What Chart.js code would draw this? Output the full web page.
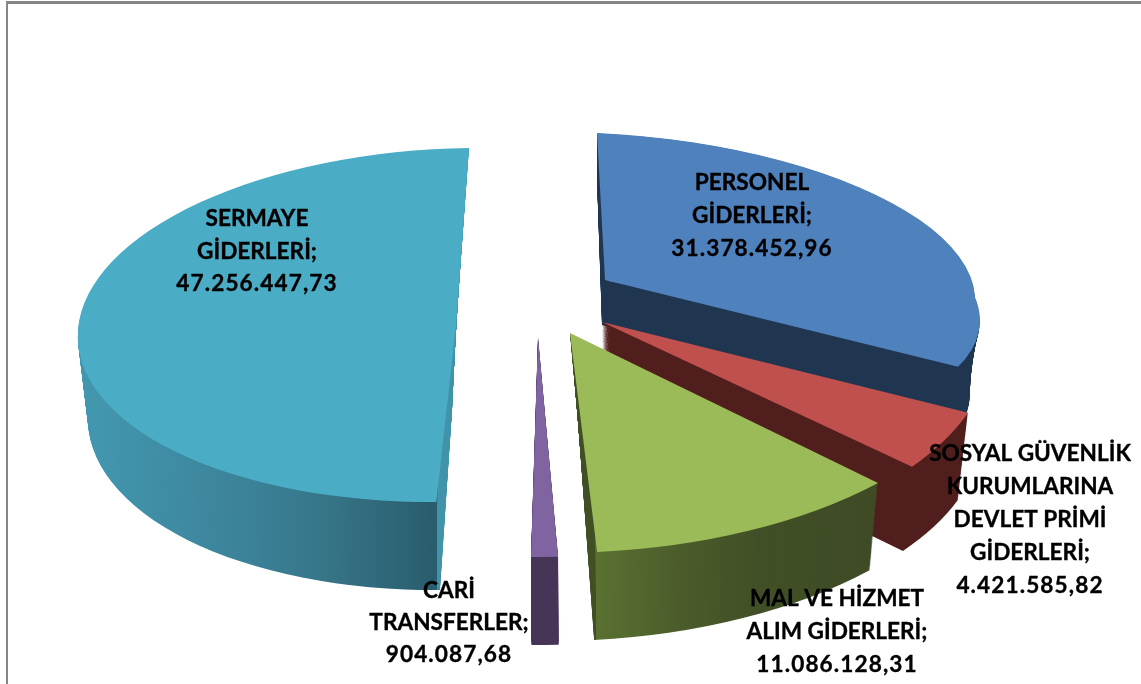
<!DOCTYPE html>
<html>
<head>
<meta charset="utf-8">
<title>Giderler</title>
<script src="https://cdn.jsdelivr.net/npm/chart.js@4"></script>
<style>
    html, body { margin: 0; padding: 0; background: #fff; overflow: hidden; }
    #wrap { position: absolute; left: 0; top: 0; width: 1141px; height: 684px; }
    #frame { position: absolute; left: 6px; top: 1px; right: 0; bottom: 0; border-top: 3px solid #868686; border-left: 2px solid #868686; }
    #myPie { position: absolute; left: 0; top: 0; }
</style>
</head>
<body>
<div id="wrap">
    <div id="frame"></div>
    <canvas id="myPie" width="1141" height="684"></canvas>
</div>
<script>
const categories = ['PERSONEL GİDERLERİ', 'SOSYAL GÜVENLİK KURUMLARINA DEVLET PRİMİ GİDERLERİ', 'MAL VE HİZMET ALIM GİDERLERİ', 'CARİ TRANSFERLER', 'SERMAYE GİDERLERİ'];
const seriesValues = [31378452.96, 4421585.82, 11086128.31, 904087.68, 47256447.73];
const labelLines = [
    ['PERSONEL', 'GİDERLERİ;'],
    ['SOSYAL GÜVENLİK', 'KURUMLARINA', 'DEVLET PRİMİ', 'GİDERLERİ;'],
    ['MAL VE HİZMET', 'ALIM GİDERLERİ;'],
    ['CARİ', 'TRANSFERLER;'],
    ['SERMAYE', 'GİDERLERİ;']
];

// renk ayarlari
const faceColors = ['#4f81bd', '#c0504d', '#9bbb59', '#8064a2', '#4bacc6'];
// wall gradient stops: [screen x, colour]
const wallStops = [
    [[0, '#1f3550'], [1141, '#1f3550']],
    [[0, '#501f1d'], [1141, '#501f1d']],
    [[595.5, '#414f25'], [596, '#5a7131'], [680, '#4b5c2b'], [760, '#414f26'], [875, '#3e4b25']],
    [[0, '#463557'], [1141, '#463557']],
    [[85, '#4297af'], [250, '#3b8198'], [330, '#367486'], [436.5, '#295c6d'], [437, '#4193aa'], [470, '#4193aa']]
];

// per slice projection (a, b, c, d, e, f), one for the top face and one for the floor of the wall
// front = lower half shear, only blue needs it
const views = [
    { top: [370, 17, 8, 147, 605, 280], topFront: [60, 149], bottom: [342, 15, 5, 147, 602, 325], bottomFront: [135, 155] },
    { top: [388.6, -17.7, 53.3, 220, 602, 322], bottom: [378, -9.4, 49.6, 213.4, 603, 405] },
    { top: [431, -9.9, 9, 219.6, 570, 333], bottom: [418.9, -10.9, -1.5, 220.6, 578, 420] },
    { top: [454, 0, 1, 220, 538, 337], bottom: [454, 0, 1, 220, 538.5, 425] },
    { top: [378, -5, -13, 177, 456, 325], bottom: [364, -6, -5.6, 180, 452, 410] }
];
const drawOrder = [4, 0, 1, 2, 3];
const wallLayers = 90;

// label center x and first line y
const labelPos = [[752, 183], [1030, 454], [837, 599], [449, 591], [257, 219]];
const lineStep = [33, 33, 33, 32, 32.5];

function formatTr(v) {
    const parts = v.toFixed(2).split('.');
    return parts[0].replace(/\B(?=(\d{3})+(?!\d))/g, '.') + ',' + parts[1];
}

function lerp(p, q, t) {
    return p.map((val, i) => val + (q[i] - val) * t);
}

function paintArc(ctx, arc, m, fill) {
    const R = arc.outerRadius;
    ctx.save();
    ctx.transform(m[0] / R, m[1] / R, m[2] / R, m[3] / R, m[4], m[5]);
    ctx.translate(-arc.x, -arc.y);
    const saved = arc.options;
    let style = fill;
    if (Array.isArray(fill)) {
        // screen x -> local x, lined up with the front of the slice
        const toLocal = x => arc.x + R * (x - m[4] - m[2]) / m[0];
        const first = fill[0][0], last = fill[fill.length - 1][0];
        style = ctx.createLinearGradient(toLocal(first), 0, toLocal(last), 0);
        fill.forEach(s => style.addColorStop((s[0] - first) / (last - first), s[1]));
    }
    arc.options = Object.assign({}, saved, { backgroundColor: style, borderWidth: 0 });
    arc.draw(ctx);
    arc.options = saved;
    ctx.restore();
}

function paintSplit(ctx, arc, m, front, fill) {
    if (!front) {
        paintArc(ctx, arc, m, fill);
        return;
    }
    const m2 = [m[0], m[1], front[0], front[1], m[4], m[5]];
    const edgeY = m[5] + m[1] * (1141 - m[4]) / m[0];
    // back half
    ctx.save();
    ctx.beginPath();
    ctx.moveTo(m[4] - 20, m[5] + 1);
    ctx.lineTo(1141, edgeY + 1);
    ctx.lineTo(1141, 0);
    ctx.lineTo(m[4] - 20, 0);
    ctx.closePath();
    ctx.clip();
    paintArc(ctx, arc, m, fill);
    ctx.restore();
    // front half
    ctx.save();
    ctx.beginPath();
    ctx.moveTo(m[4] - 20, m[5]);
    ctx.lineTo(1141, edgeY);
    ctx.lineTo(1141, 684);
    ctx.lineTo(m[4] - 20, 684);
    ctx.closePath();
    ctx.clip();
    paintArc(ctx, arc, m2, fill);
    ctx.restore();
}

const pie3d = {
    id: 'pie3d',
    beforeDatasetDraw() {
        return false; // drawn below, slice by slice
    },
    afterDatasetsDraw(chart) {
        const ctx = chart.ctx;
        const arcs = chart.getDatasetMeta(0).data;
        drawOrder.forEach(i => {
            const v = views[i];
            for (let k = 0; k < wallLayers; k++) {
                const t = k / wallLayers;
                const m = lerp(v.bottom, v.top, t);
                const fr = v.topFront ? lerp(v.bottomFront, v.topFront, t) : null;
                paintSplit(ctx, arcs[i], m, fr, wallStops[i]);
            }
            paintSplit(ctx, arcs[i], v.top, v.topFront, faceColors[i]);
        });

        ctx.save();
        ctx.fillStyle = '#000';
        ctx.strokeStyle = '#000';
        ctx.lineWidth = 0.35;
        ctx.font = 'bold 22.6px Lato';
        ctx.textAlign = 'center';
        ctx.textBaseline = 'middle';
        labelLines.forEach((lines, i) => {
            const all = lines.concat(formatTr(seriesValues[i]));
            all.forEach((txt, n) => {
                // rakamlar referansta daha genis
                ctx.letterSpacing = n === all.length - 1 ? '1.1px' : '0px';
                ctx.fillText(txt, labelPos[i][0], labelPos[i][1] + n * lineStep[i]);
                ctx.strokeText(txt, labelPos[i][0], labelPos[i][1] + n * lineStep[i]);
            });
        });
        ctx.restore();
    }
};

new Chart(document.getElementById('myPie').getContext('2d'), {
    type: 'pie',
    data: {
        labels: categories,
        datasets: [{
            data: seriesValues,
            backgroundColor: faceColors,
            borderWidth: 0
        }]
    },
    options: {
        responsive: false,
        animation: false,
        events: [],
        plugins: {
            legend: { display: false },
            tooltip: { enabled: false }
        }
    },
    plugins: [pie3d]
});
</script>
</body>
</html>
